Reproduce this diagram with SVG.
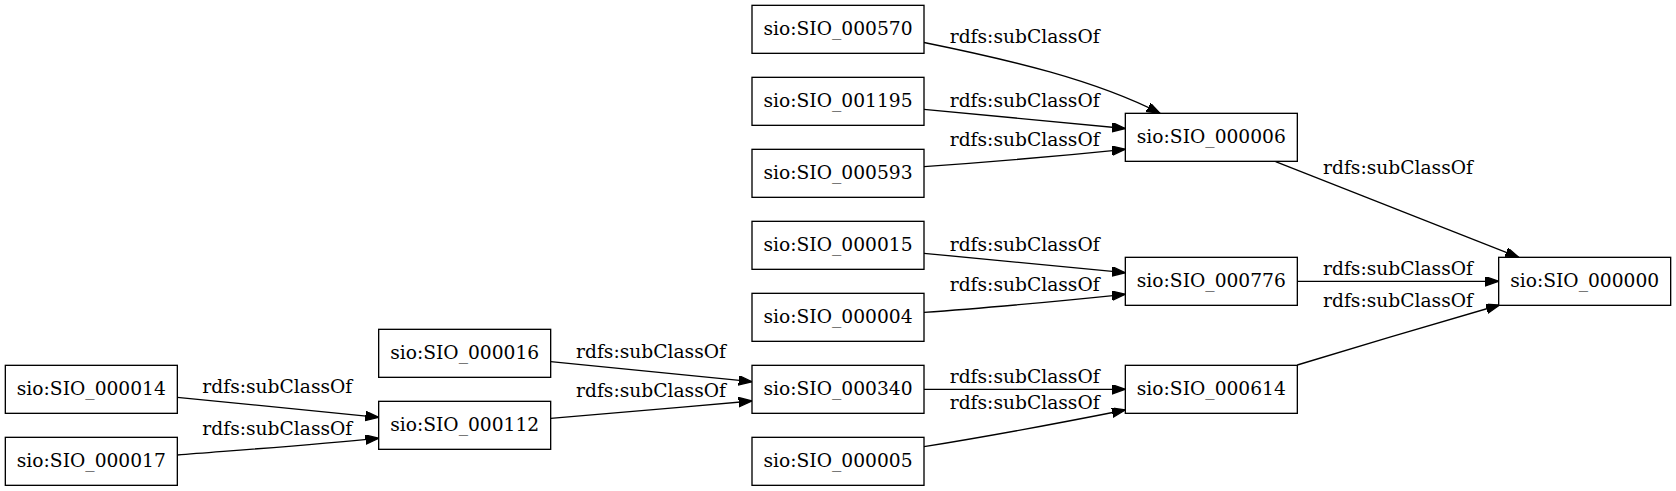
<svg xmlns="http://www.w3.org/2000/svg" width="1676" height="491" viewBox="0 0 1676 491">
<style>
.n rect{fill:#fff;stroke:#000;stroke-width:1.33}
.n text{font-family:"DejaVu Serif",serif;font-size:18.67px;text-anchor:middle;fill:#000}
.e path{fill:none;stroke:#000;stroke-width:1.33;marker-end:url(#ah)}
.e text{font-family:"DejaVu Serif",serif;font-size:18.67px;text-anchor:middle;fill:#000}
</style>
<defs>
<marker id="ah" markerUnits="userSpaceOnUse" markerWidth="16" markerHeight="12" refX="13.3" refY="4.7" orient="auto" viewBox="0 0 16 12">
<path d="M0,0 L13.3,4.7 L0,9.4 Z" fill="#000" stroke="#000" stroke-width="1.33"/>
</marker>
</defs>
<rect width="1676" height="491" fill="#fff"/>
<g id="connectors" class="e">
<path d="M177.3,397.3 L378.7,417.3"/>
<text x="277.3" y="393.3">rdfs:subClassOf</text>
<path d="M177.3,455 C240,450 310,445 378.7,438.3"/>
<text x="277.3" y="435">rdfs:subClassOf</text>
<path d="M550.7,361.7 L752,381.7"/>
<text x="651" y="358.3">rdfs:subClassOf</text>
<path d="M550.7,418.3 C615,413 685,407 752,401"/>
<text x="651" y="397.3">rdfs:subClassOf</text>
<path d="M924,42.5 C1010,60 1095,80 1160,113.3"/>
<text x="1024.7" y="43.3">rdfs:subClassOf</text>
<path d="M924,109.3 L1125.3,128.5"/>
<text x="1024.7" y="106.7">rdfs:subClassOf</text>
<path d="M924,166.7 C990,162 1060,156 1125.3,149.3"/>
<text x="1024.7" y="145.7">rdfs:subClassOf</text>
<path d="M924,253.3 L1125.3,272.7"/>
<text x="1024.7" y="250.7">rdfs:subClassOf</text>
<path d="M924,312.3 C990,308 1060,301 1125.3,294.3"/>
<text x="1024.7" y="291">rdfs:subClassOf</text>
<path d="M924,389.3 L1125.3,389.3"/>
<text x="1024.7" y="383.3">rdfs:subClassOf</text>
<path d="M924,446.7 C990,436 1060,423 1125.3,410"/>
<text x="1024.7" y="409.3">rdfs:subClassOf</text>
<path d="M1275.6,161.7 L1518.7,257.3"/>
<text x="1398" y="174.3">rdfs:subClassOf</text>
<path d="M1297.3,281.3 L1498.7,281.3"/>
<text x="1398" y="275">rdfs:subClassOf</text>
<path d="M1297.3,365 C1360,346 1440,322 1499.5,305"/>
<text x="1398" y="306.7">rdfs:subClassOf</text>
</g>
<g id="SIO_000014" class="n"><rect x="5.33" y="365.33" width="172" height="48"/><text x="91.33" y="395.3">sio:SIO_000014</text></g>
<g id="SIO_000017" class="n"><rect x="5.33" y="437.33" width="172" height="48"/><text x="91.33" y="467.3">sio:SIO_000017</text></g>
<g id="SIO_000016" class="n"><rect x="378.67" y="329.33" width="172" height="48"/><text x="464.67" y="359.3">sio:SIO_000016</text></g>
<g id="SIO_000112" class="n"><rect x="378.67" y="401.33" width="172" height="48"/><text x="464.67" y="431.3">sio:SIO_000112</text></g>
<g id="SIO_000570" class="n"><rect x="752" y="5.33" width="172" height="48"/><text x="838" y="35.3">sio:SIO_000570</text></g>
<g id="SIO_001195" class="n"><rect x="752" y="77.33" width="172" height="48"/><text x="838" y="107.3">sio:SIO_001195</text></g>
<g id="SIO_000593" class="n"><rect x="752" y="149.33" width="172" height="48"/><text x="838" y="179.3">sio:SIO_000593</text></g>
<g id="SIO_000015" class="n"><rect x="752" y="221.33" width="172" height="48"/><text x="838" y="251.3">sio:SIO_000015</text></g>
<g id="SIO_000004" class="n"><rect x="752" y="293.33" width="172" height="48"/><text x="838" y="323.3">sio:SIO_000004</text></g>
<g id="SIO_000340" class="n"><rect x="752" y="365.33" width="172" height="48"/><text x="838" y="395.3">sio:SIO_000340</text></g>
<g id="SIO_000005" class="n"><rect x="752" y="437.33" width="172" height="48"/><text x="838" y="467.3">sio:SIO_000005</text></g>
<g id="SIO_000006" class="n"><rect x="1125.33" y="113.33" width="172" height="48"/><text x="1211.33" y="143.3">sio:SIO_000006</text></g>
<g id="SIO_000776" class="n"><rect x="1125.33" y="257.33" width="172" height="48"/><text x="1211.33" y="287.3">sio:SIO_000776</text></g>
<g id="SIO_000614" class="n"><rect x="1125.33" y="365.33" width="172" height="48"/><text x="1211.33" y="395.3">sio:SIO_000614</text></g>
<g id="SIO_000000" class="n"><rect x="1498.67" y="257.33" width="172" height="48"/><text x="1584.67" y="287.3">sio:SIO_000000</text></g>
</svg>
